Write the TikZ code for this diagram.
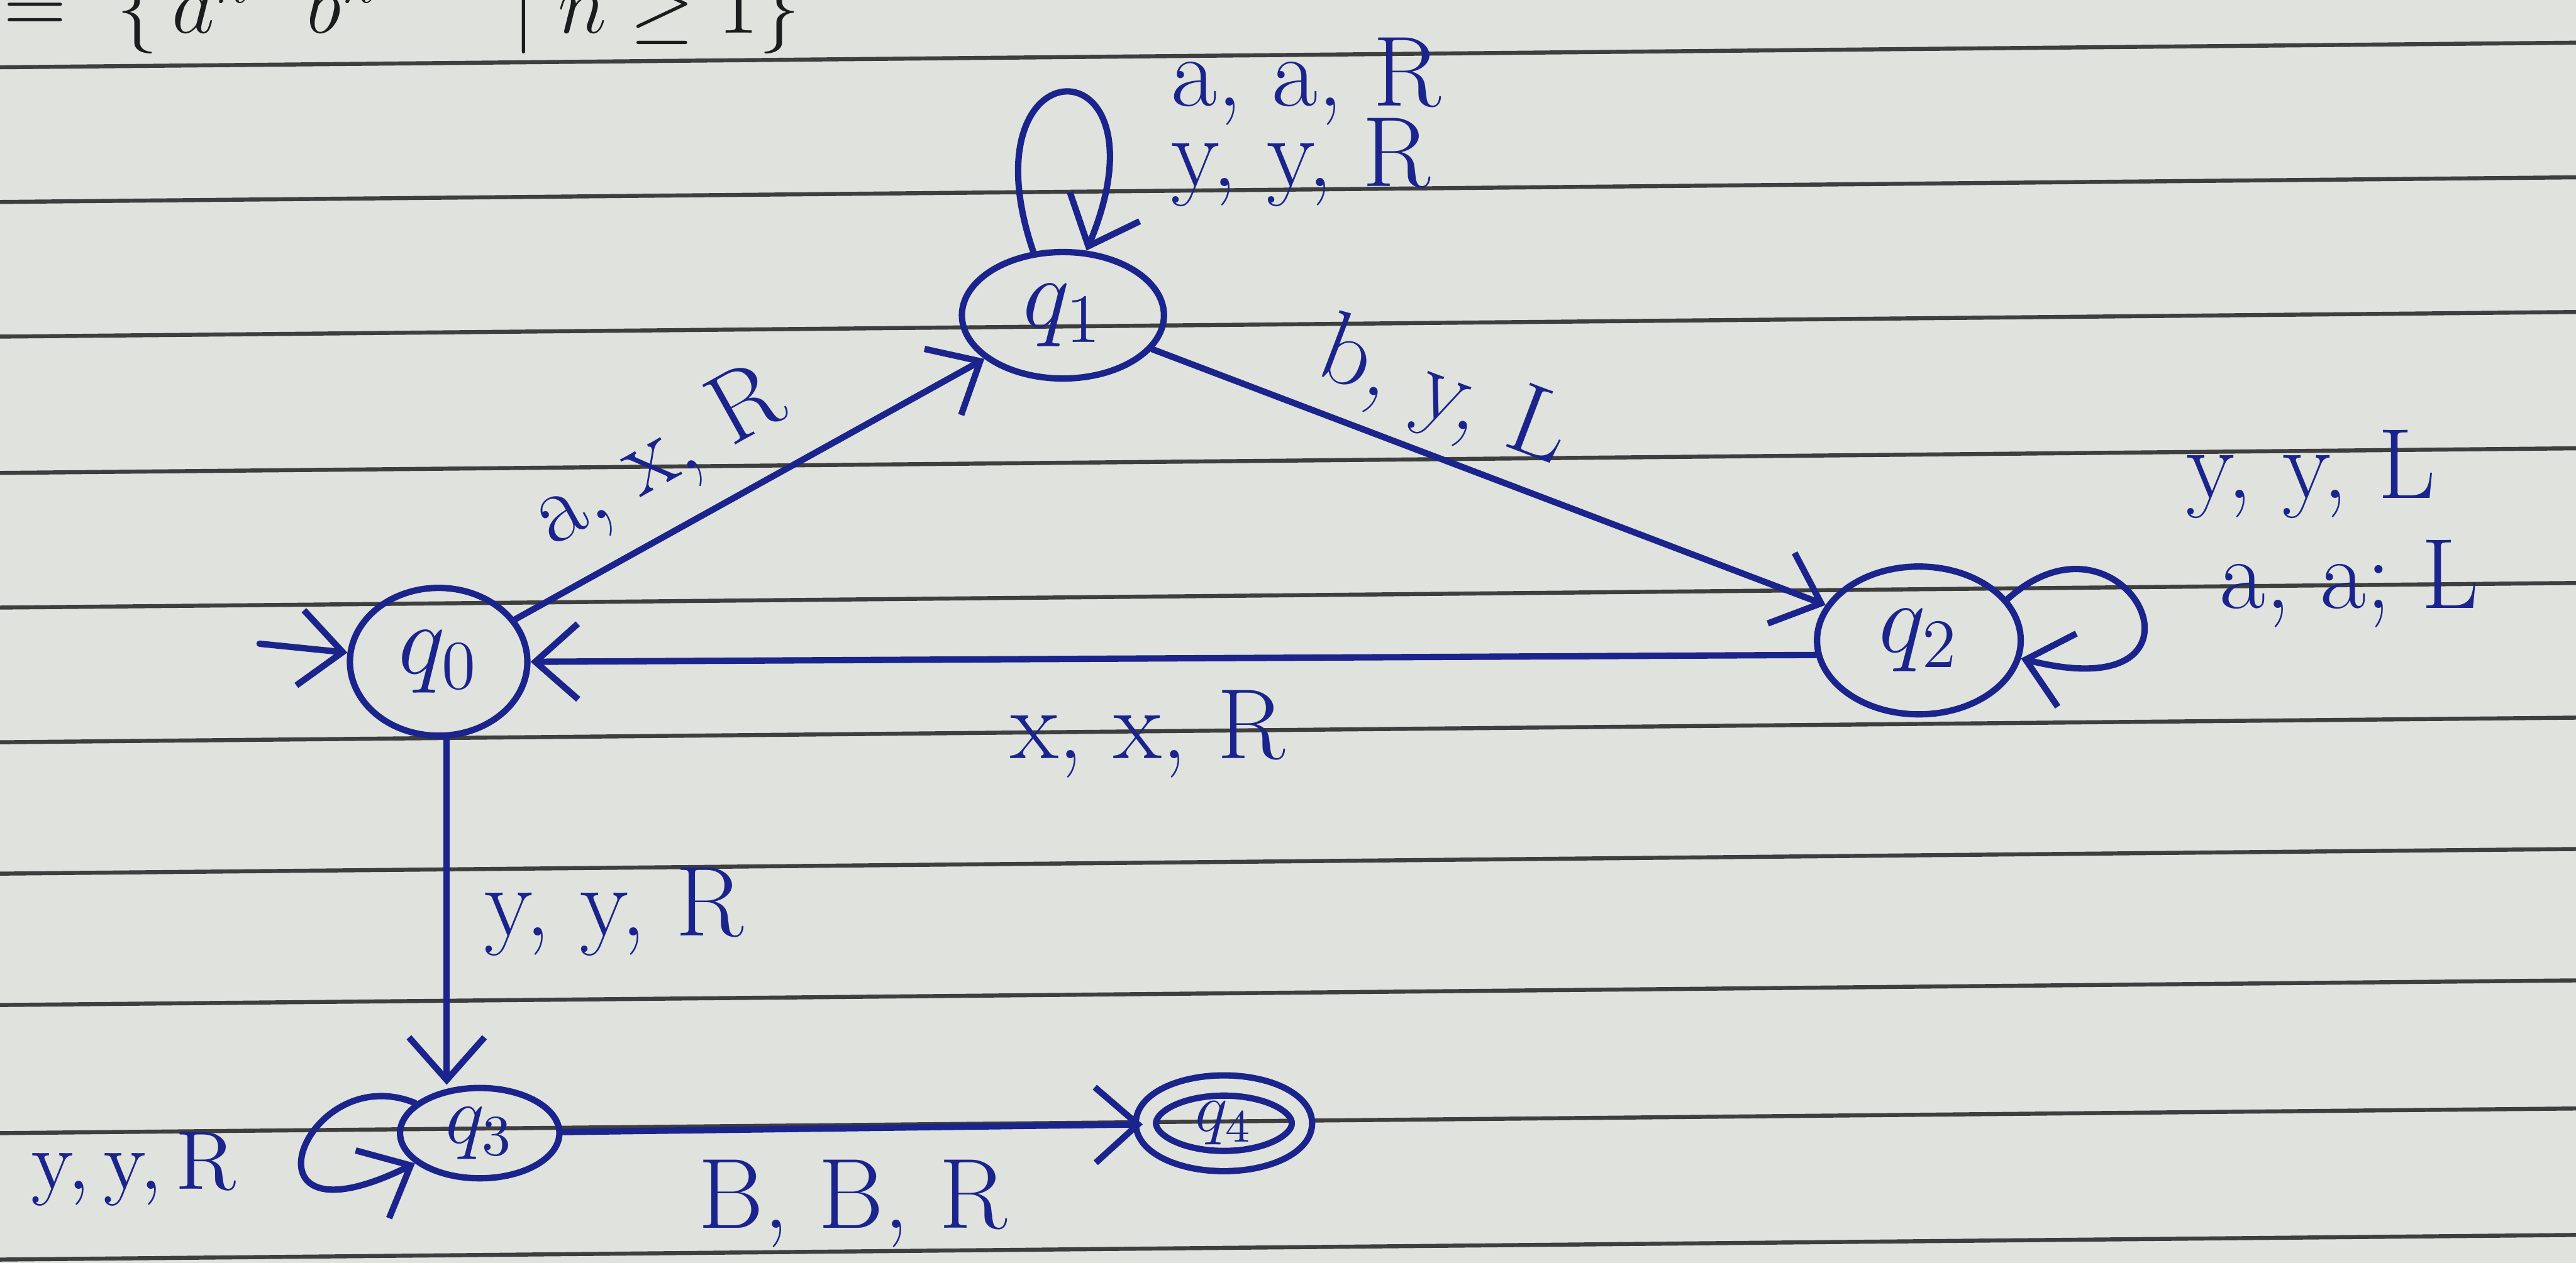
\documentclass[tikz,border=0pt]{standalone}
\usetikzlibrary{shapes.geometric,arrows.meta}
\definecolor{ink}{RGB}{26,36,140}
\definecolor{paper}{RGB}{224,226,221}
\definecolor{rule}{RGB}{62,62,62}
\definecolor{pencil}{RGB}{28,28,30}
\begin{document}
\begin{tikzpicture}[line join=round,line cap=round,line width=1.1pt,font=\LARGE,
	state/.style={draw=ink,ellipse,inner sep=0pt,text=ink},
	accept/.style={state,double=paper,double distance=2.4pt},
	edge/.style={draw=ink,-{Straight Barb[length=2.6mm,width=4.6mm]}},
	lab/.style={text=ink,inner sep=2pt}]
	\fill[paper] (0,0) rectangle (15.68,7.69);
	\useasboundingbox (0,0) rectangle (15.68,7.69);
	% ruled paper
	\foreach \y in {7.28,6.46,5.64,4.81,3.99,3.17,2.37,1.57,0.79,0.02}
		\draw[rule,line width=0.7pt] (0,\y) -- (15.68,\y+0.15);
	\node[text=pencil,font=\Large,anchor=base west,inner sep=0pt] (lang) at (0,7.49) {$=\ \{\,a^{n}\ \ b^{n}\quad\ \mid n\geq 1\}$};
	% states
	\node[state,minimum width=1.08cm,minimum height=0.9cm] (q0) at (2.67,3.66) {$q_0$};
	\node[state,minimum width=1.23cm,minimum height=0.77cm] (q1) at (6.47,5.77) {$q_1$};
	\node[state,minimum width=1.24cm,minimum height=0.9cm] (q2) at (11.68,3.79) {$q_2$};
	\node[state,font=\Large,minimum width=0.97cm,minimum height=0.55cm] (q3) at (2.92,0.79) {$q_3$};
	\node[accept,font=\large,minimum width=0.95cm,minimum height=0.46cm] (q4) at (7.45,0.85) {$q_4$};
	\coordinate (start) at (1.58,3.77);
	% transitions
	\draw[edge] (start) -- (q0);
	\draw[edge] (q0) -- node[lab,pos=0.38,sloped,above=2pt] {a, x, R} (q1);
	\draw[edge] (q1) -- node[lab,pos=0.4,sloped,above] {b, y, L} (q2);
	\draw[edge] (q2.188) -- node[lab,pos=0.52,below=3pt] {x, x, R} (q0.east);
	\draw[edge] (q0.-84) -- node[lab,pos=0.5,right=4pt] {y, y, R} (q0.-84 |- q3.north);
	\draw[edge] (q3) -- node[lab,pos=0.5,below=3pt] {B, B, R} (q4);
	% loops
	\draw[edge] (q1.115) .. controls (5.85,7.45) and (7.15,7.45) .. (q1.70);
	\node[lab,anchor=north west,align=left] (l1) at (7.04,7.55) {a, a, R\\[-8pt]y, y, R};
	\draw[edge] (q2.25) .. controls (12.95,4.7) and (13.6,3.35) .. (q2.-10);
	\node[lab,anchor=west,align=left] (l2) at (13.22,4.47) {y, y, L\\[-3pt]\,\,a, a; L};
	\draw[edge] (q3.155) .. controls (1.85,1.25) and (1.4,0.05) .. (q3.205);
	\node[lab,font=\Large,anchor=west] (l3) at (0.1,0.57) {y,\,y,\,R};
\end{tikzpicture}
\end{document}
